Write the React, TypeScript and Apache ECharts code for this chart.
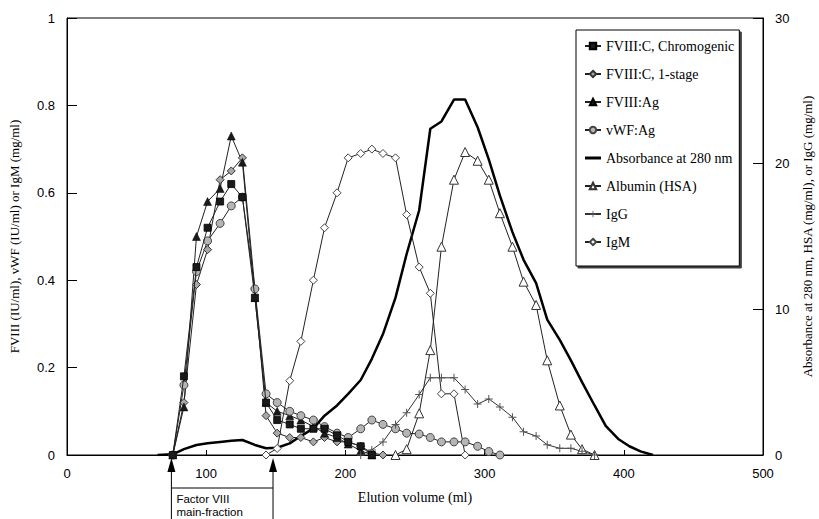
import React, { useEffect, useRef } from "react";
import * as echarts from "echarts";

// Elution volume (ml) of each collected fraction
const fractionVolume = [
  76, 84, 93, 101, 110, 118, 126, 135, 143, 151, 160, 168, 177, 185, 194, 202, 211, 219,
  227, 236, 244, 253, 261, 269, 278, 286, 295, 303, 311, 320, 328, 337, 345, 354, 362, 370, 379,
];

// FVIII / vWF / IgM assays (left axis), each listed from its first fraction index
const chromogenicStart = 0;
const chromogenic = [0, 0.18, 0.43, 0.52, 0.58, 0.62, 0.59, 0.36, 0.12, 0.08, 0.07, 0.06, 0.06, 0.06, 0.045, 0.03, 0.02, 0];

const oneStageStart = 0;
const oneStage = [0, 0.12, 0.39, 0.47, 0.63, 0.65, 0.68, 0.38, 0.09, 0.05, 0.04, 0.04, 0.03, 0.04, 0.03, 0.03, 0.02, 0.005, 0];

const fviiiAgStart = 0;
const fviiiAg = [0, 0.11, 0.5, 0.58, 0.61, 0.73, 0.67, 0.36, 0.12, 0.1, 0.09, 0.08, 0.065, 0.05, 0.04, 0.025, 0.01, 0];

const vwfAgStart = 0;
const vwfAg = [
  0, 0.16, 0.42, 0.49, 0.53, 0.57, 0.59, 0.38, 0.14, 0.12, 0.1, 0.09, 0.08, 0.065, 0.05, 0.04,
  0.06, 0.08, 0.07, 0.06, 0.05, 0.048, 0.04, 0.03, 0.03, 0.03, 0.02, 0.008, 0,
];

const igmStart = 8;
const igm = [0, 0.015, 0.17, 0.26, 0.4, 0.52, 0.6, 0.68, 0.69, 0.7, 0.69, 0.68, 0.55, 0.43, 0.37, 0.14, 0.14, 0];

// Right axis: absorbance trace, albumin and IgG
const absorbanceVolume = [
  65, 76, 84, 93, 101, 110, 118, 126, 135, 143, 151, 160, 168, 177, 185, 194, 202, 211, 219,
  227, 236, 244, 253, 261, 269, 278, 286, 295, 303, 311, 320, 328, 337, 345, 354, 362, 370, 379,
  387, 396, 404, 412, 421,
];
const absorbance = [
  0, 0.05, 0.4, 0.69, 0.8, 0.9, 0.98, 1.03, 0.69, 0.46, 0.5, 0.8, 1.3, 1.83, 2.7, 3.4, 4.2, 5.15, 6.6,
  8.3, 10.8, 13.8, 16.8, 22.4, 22.9, 24.4, 24.4, 22.5, 20.3, 17.8, 15.3, 13.4, 11.8, 9.3, 7.9, 6.5, 5.0, 3.4,
  2.0, 1.1, 0.6, 0.25, 0,
];

const albuminStart = 19;
const albumin = [0, 0.4, 2.86, 7.2, 14.3, 18.9, 20.8, 20.2, 18.9, 16.6, 14.3, 11.9, 10.3, 6.5, 3.4, 1.4, 0.4, 0];

const iggStart = 16;
const igg = [0, 0.35, 0.9, 2.1, 2.9, 4.15, 5.3, 5.3, 5.3, 4.5, 3.5, 3.85, 3.3, 2.6, 1.6, 1.3, 0.7, 0.46, 0.46, 0.25, 0];

// Factor VIII main-fraction pooled between these volumes (ml)
const mainFraction = [75, 148];

const xTicks = { min: 0, max: 500, interval: 100 };
const leftTicks = { min: 0, max: 1, interval: 0.2 };
const rightTicks = { min: 0, max: 30, interval: 10 };

const pairs = (start: number, values: number[]) =>
  values.map((v, i) => [fractionVolume[start + i], v]);

const SERIF = "'Liberation Serif', 'Times New Roman', serif";
const SANS = "'Liberation Sans', Arial, sans-serif";
const PLUS = "path://M3.5,0h1v3.5h3.5v1h-3.5v3.5h-1v-3.5h-3.5v-1h3.5z";
const THICK_LINE = "path://M0,0h16v3h-16z";

const lineBase = {
  type: "line",
  showSymbol: true,
  lineStyle: { color: "#222", width: 1 },
  emphasis: { disabled: true },
  z: 3,
};

const legendNames = [
  "FVIII:C, Chromogenic",
  "FVIII:C, 1-stage",
  "FVIII:Ag",
  "vWF:Ag",
  "Absorbance at 280 nm",
  "Albumin (HSA)",
  "IgG",
  "IgM",
];

export default function App() {
  const ref = useRef<HTMLDivElement>(null);

  useEffect(() => {
    if (!ref.current) return;
    const chart = echarts.init(ref.current, null, { renderer: "svg" });

    const option: any = {
      animation: false,
      backgroundColor: "#fff",
      grid: {
        left: 67,
        right: 56,
        top: 18,
        bottom: 64,
        show: true,
        borderColor: "#000",
        borderWidth: 1,
        containLabel: false,
        outerBoundsMode: "none",
      },
      legend: {
        orient: "vertical",
        left: 576,
        top: 30,
        selectedMode: false,
        itemWidth: 16,
        itemHeight: 8,
        itemGap: 14,
        padding: [9, 5, 17, 8],
        backgroundColor: "#fff",
        borderColor: "#000",
        borderWidth: 1,
        shadowColor: "rgba(0,0,0,0.75)",
        shadowOffsetX: 2,
        shadowOffsetY: 2,
        shadowBlur: 0,
        textStyle: { fontFamily: SERIF, fontSize: 14, color: "#000" },
        data: legendNames.map((n) =>
          n === "Absorbance at 280 nm" ? { name: n, icon: THICK_LINE } : { name: n }
        ),
      },
      xAxis: {
        type: "value",
        ...xTicks,
        name: "Elution volume (ml)",
        nameLocation: "middle",
        nameGap: 35,
        nameTextStyle: { fontFamily: SERIF, fontSize: 14, color: "#000" },
        axisLine: { lineStyle: { color: "#000", width: 1 } },
        axisTick: { inside: true, length: 5, lineStyle: { color: "#000" } },
        axisLabel: { fontFamily: SANS, fontSize: 13, color: "#000", margin: 12 },
        splitLine: { show: false },
      },
      yAxis: [
        {
          type: "value",
          ...leftTicks,
          name: "FVIII (IU/ml), vWF (IU/ml) or IgM (mg/ml)",
          nameLocation: "middle",
          nameRotate: 90,
          nameGap: 46,
          nameTextStyle: { fontFamily: SERIF, fontSize: 13, color: "#000" },
          axisLine: { show: true, lineStyle: { color: "#000", width: 1 } },
          axisTick: { show: true, inside: true, length: 10, lineStyle: { color: "#000" } },
          axisLabel: { fontFamily: SANS, fontSize: 13, color: "#000", margin: 12 },
          splitLine: { show: false },
        },
        {
          type: "value",
          position: "right",
          ...rightTicks,
          name: "Absorbance at 280 nm, HSA (mg/ml), or IgG (mg/ml)",
          nameLocation: "middle",
          nameRotate: 90,
          nameGap: 38,
          nameTextStyle: { fontFamily: SERIF, fontSize: 13, color: "#000" },
          axisLine: { show: true, lineStyle: { color: "#000", width: 1 } },
          axisTick: { show: true, inside: true, length: 10, lineStyle: { color: "#000" } },
          axisLabel: { fontFamily: SANS, fontSize: 13, color: "#000", margin: 12 },
          splitLine: { show: false },
        },
      ],
      series: [
        {
          ...lineBase,
          name: "FVIII:C, Chromogenic",
          data: pairs(chromogenicStart, chromogenic),
          symbol: "rect",
          symbolSize: 7,
          itemStyle: { color: "#1a1a1a", borderColor: "#000", borderWidth: 0.8 },
          z: 5,
        },
        {
          ...lineBase,
          name: "FVIII:C, 1-stage",
          data: pairs(oneStageStart, oneStage),
          symbol: "diamond",
          symbolSize: 8,
          itemStyle: { color: "#a8a8a8", borderColor: "#333", borderWidth: 1 },
        },
        {
          ...lineBase,
          name: "FVIII:Ag",
          data: pairs(fviiiAgStart, fviiiAg),
          symbol: "triangle",
          symbolSize: 8,
          itemStyle: { color: "#1a1a1a", borderColor: "#000", borderWidth: 0.5 },
        },
        {
          ...lineBase,
          name: "vWF:Ag",
          data: pairs(vwfAgStart, vwfAg),
          symbol: "circle",
          symbolSize: 8,
          itemStyle: { color: "#b5b5b5", borderColor: "#444", borderWidth: 1 },
        },
        {
          type: "line",
          name: "Absorbance at 280 nm",
          yAxisIndex: 1,
          data: absorbanceVolume.map((v, i) => [v, absorbance[i]]),
          showSymbol: false,
          symbol: "none",
          lineStyle: { color: "#000", width: 2.5 },
          itemStyle: { color: "#000" },
          emphasis: { disabled: true },
          z: 2,
        },
        {
          ...lineBase,
          name: "Albumin (HSA)",
          yAxisIndex: 1,
          data: pairs(albuminStart, albumin),
          symbol: "triangle",
          symbolSize: 9,
          itemStyle: { color: "#fff", borderColor: "#333", borderWidth: 1 },
        },
        {
          ...lineBase,
          name: "IgG",
          yAxisIndex: 1,
          data: pairs(iggStart, igg),
          symbol: PLUS,
          symbolSize: 8,
          lineStyle: { color: "#333", width: 1 },
          itemStyle: { color: "#555", borderWidth: 0 },
        },
        {
          ...lineBase,
          name: "IgM",
          data: pairs(igmStart, igm),
          symbol: "diamond",
          symbolSize: 8,
          itemStyle: { color: "#fff", borderColor: "#444", borderWidth: 1 },
        },
      ],
    };

    chart.setOption(option);

    // Arrows and bracket marking the pooled Factor VIII main-fraction
    const yBase = chart.convertToPixel({ yAxisIndex: 0 }, 0) as number;
    const [xa, xb] = mainFraction.map((v) => chart.convertToPixel({ xAxisIndex: 0 }, v) as number);
    const tipY = yBase + 3;
    const baseY = yBase + 17;
    const barY = yBase + 33;
    const arrow = (x: number) => [
      {
        type: "polygon",
        shape: { points: [[x, tipY], [x - 4, baseY], [x + 4, baseY]] },
        style: { fill: "#000" },
      },
      {
        type: "line",
        shape: { x1: x, y1: baseY, x2: x, y2: 530 },
        style: { stroke: "#000", lineWidth: 1 },
      },
    ];
    chart.setOption({
      graphic: [
        ...arrow(xa),
        ...arrow(xb),
        {
          type: "line",
          shape: { x1: xa, y1: barY, x2: xb, y2: barY },
          style: { stroke: "#000", lineWidth: 1 },
        },
        {
          type: "text",
          x: xa + 5,
          y: barY + 4,
          style: {
            text: "Factor VIII\nmain-fraction",
            fontFamily: SANS,
            fontSize: 11.5,
            lineHeight: 13,
            fill: "#000",
          },
        },
      ],
    });

    return () => chart.dispose();
  }, []);

  return (
    <div
      ref={ref}
      style={{ position: "fixed", left: 0, top: 0, width: 819, height: 519, background: "#fff" }}
    />
  );
}
